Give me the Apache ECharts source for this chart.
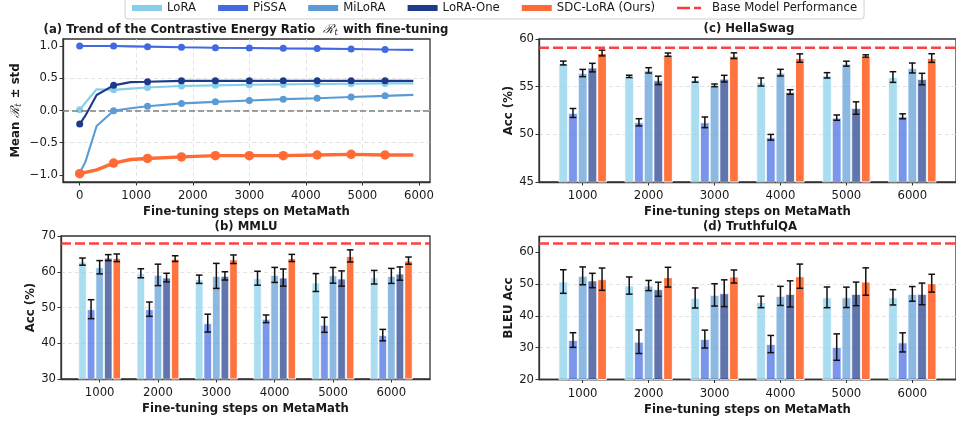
<!DOCTYPE html>
<html><head><meta charset="utf-8">
<script src="https://cdn.jsdelivr.net/npm/echarts@6.0.0/dist/echarts.min.js"></script>
<style>html,body{margin:0;padding:0;background:#fff}#c{width:956px;height:421px}</style>
</head><body><div id="c"></div><script>
// ---------------- data ----------------
const methods = ['LoRA', 'PiSSA', 'MiLoRA', 'LoRA-One', 'SDC-LoRA (Ours)'];
const baseName = 'Base Model Performance';
const steps = [1000, 2000, 3000, 4000, 5000, 6000];

// (a) contrastive energy ratio trend
const trendSteps  = [0, 100, 300, 600, 900, 1200, 1800, 2400, 3000, 3600, 4200, 4800, 5400, 5900];
const trendLoRA   = [0.01, 0.12, 0.33, 0.32, 0.34, 0.357, 0.38, 0.39, 0.40, 0.405, 0.41, 0.415, 0.42, 0.42];
const trendPiSSA  = [1.0, 1.0, 1.0, 1.0, 0.995, 0.99, 0.98, 0.974, 0.97, 0.964, 0.96, 0.953, 0.945, 0.94];
const trendMiLoRA = [-0.97, -0.80, -0.24, -0.005, 0.036, 0.067, 0.11, 0.134, 0.155, 0.176, 0.19, 0.21, 0.227, 0.243];
const trendLoRAOne= [-0.21, -0.08, 0.24, 0.39, 0.44, 0.445, 0.46, 0.46, 0.46, 0.46, 0.46, 0.46, 0.46, 0.46];
const trendSDC    = [-0.98, -0.96, -0.92, -0.816, -0.76, -0.744, -0.72, -0.70, -0.70, -0.70, -0.69, -0.68, -0.69, -0.69];
const trendTicksX = [0, 1000, 2000, 3000, 4000, 5000, 6000];
const trendTicksY = [-1.0, -0.5, 0.0, 0.5, 1.0];

// (b) MMLU
const mmluLoRA      = [62.84, 59.58, 57.9, 58.19, 56.98, 58.47];
const mmluLoRAErr   = [1.0, 1.26, 1.16, 1.95, 2.5, 1.9];
const mmluPiSSA     = [49.53, 49.53, 45.63, 46.84, 45.16, 42.28];
const mmluPiSSAErr  = [2.65, 2.0, 2.5, 1.07, 2.1, 1.6];
const mmluMiLoRA    = [61.26, 59.12, 58.84, 59.12, 59.0, 58.84];
const mmluMiLoRAErr = [1.86, 3.0, 3.5, 2.1, 2.2, 2.1];
const mmluLoRAOne   = [63.95, 58.37, 58.84, 58.37, 58.1, 59.49];
const mmluLoRAOneErr= [0.84, 1.2, 1.16, 2.4, 2.14, 1.86];
const mmluSDC       = [63.9, 63.67, 63.5, 63.86, 64.42, 63.12];
const mmluSDCErr    = [1.07, 0.8, 1.2, 1.0, 1.7, 1.0];
const mmluBase = 67.9;

// (c) HellaSwag
const hsLoRA      = [57.48, 56.08, 55.73, 55.49, 56.19, 56.01];
const hsLoRAErr   = [0.2, 0.12, 0.26, 0.42, 0.28, 0.56];
const hsPiSSA     = [52.24, 51.26, 51.26, 49.69, 51.75, 51.89];
const hsPiSSAErr  = [0.47, 0.38, 0.56, 0.3, 0.28, 0.26];
const hsMiLoRA    = [56.43, 56.71, 55.14, 56.47, 57.41, 56.96];
const hsMiLoRAErr = [0.38, 0.28, 0.14, 0.35, 0.26, 0.52];
const hsLoRAOne   = [57.0, 55.66, 55.84, 54.44, 52.76, 55.8];
const hsLoRAOneErr= [0.45, 0.44, 0.35, 0.24, 0.65, 0.6];
const hsSDC       = [58.53, 58.36, 58.25, 58.0, 58.22, 58.0];
const hsSDCErr    = [0.3, 0.17, 0.3, 0.44, 0.12, 0.45];
const hsBase = 59.09;

// (d) TruthfulQA
const tqaLoRA      = [50.76, 49.5, 45.6, 44.36, 45.8, 45.8];
const tqaLoRAErr   = [3.7, 2.7, 3.15, 1.8, 3.25, 2.4];
const tqaPiSSA     = [32.39, 31.86, 32.7, 31.13, 30.18, 31.65];
const tqaPiSSAErr  = [2.3, 3.7, 2.8, 2.7, 4.15, 3.0];
const tqaMiLoRA    = [52.55, 49.5, 46.56, 46.25, 45.8, 46.88];
const tqaMiLoRAErr = [2.8, 1.6, 3.5, 3.0, 3.2, 2.3];
const tqaLoRAOne   = [51.08, 48.35, 47.09, 46.88, 46.88, 46.88];
const tqaLoRAOneErr= [2.26, 2.2, 4.2, 4.1, 3.7, 3.4];
const tqaSDC       = [51.5, 52.13, 52.34, 52.44, 50.76, 50.24];
const tqaSDCErr    = [3.5, 3.1, 2.05, 3.8, 4.3, 2.8];
const tqaBase = 62.7;
const tqaTicksY = [20, 30, 40, 50, 60];

// ---------------- styling ----------------
const FONT = 'DejaVu Sans';
const FS = 11.7;
const TXT = '#1a1a1a';
const lineColors = ['#87CEEB', '#4169E1', '#5B9BD5', '#1E3A8A', '#FF6B35'];
const BAR_FRAC = 0.147;
const XMIN_BAR = 337.5, XMAX_BAR = 6662.5;

const trendSeries = [trendLoRA, trendPiSSA, trendMiLoRA, trendLoRAOne, trendSDC];
const panels = [
  { grid: 1, base: hsBase,
    mean: [hsLoRA, hsPiSSA, hsMiLoRA, hsLoRAOne, hsSDC],
    err:  [hsLoRAErr, hsPiSSAErr, hsMiLoRAErr, hsLoRAOneErr, hsSDCErr] },
  { grid: 2, base: mmluBase,
    mean: [mmluLoRA, mmluPiSSA, mmluMiLoRA, mmluLoRAOne, mmluSDC],
    err:  [mmluLoRAErr, mmluPiSSAErr, mmluMiLoRAErr, mmluLoRAOneErr, mmluSDCErr] },
  { grid: 3, base: tqaBase,
    mean: [tqaLoRA, tqaPiSSA, tqaMiLoRA, tqaLoRAOne, tqaSDC],
    err:  [tqaLoRAErr, tqaPiSSAErr, tqaMiLoRAErr, tqaLoRAOneErr, tqaSDCErr] }
];

const gridStyle = { show: true, borderColor: '#333', borderWidth: 1.3, backgroundColor: 'transparent' };
const grids = [
  Object.assign({ left: 63, top: 39, width: 367, height: 143 }, gridStyle),
  Object.assign({ left: 539, top: 39, width: 420, height: 143 }, gridStyle),
  Object.assign({ left: 61, top: 236, width: 369, height: 143 }, gridStyle),
  Object.assign({ left: 539, top: 236.5, width: 420, height: 143 }, gridStyle)
];

const mathRich = {
  r: { fontFamily: 'DejaVu Serif', fontStyle: 'italic', fontWeight: 'normal', fontSize: 12.5, color: TXT },
  s: { fontFamily: 'DejaVu Serif', fontStyle: 'italic', fontWeight: 'normal', fontSize: 8.5, color: TXT, padding: [6, 1, 0, 0] }
};

const axisLabelBase = { fontFamily: FONT, fontSize: FS, color: TXT };
const tickBase = { show: true, length: 3.5, lineStyle: { color: '#333', width: 1 } };
const splitDash = { show: true, showMinLine: false, showMaxLine: false,
  lineStyle: { color: '#dcdcdc', type: [4, 3], width: 0.8 } };
const spineLine = { show: true, onZero: false, lineStyle: { color: '#333', width: 1.3 } };
const xName = 'Fine-tuning steps on MetaMath';
const nameStyle = { fontFamily: FONT, fontSize: FS, fontWeight: 'bold', color: TXT };
const minusFmt = v => (v < 0 ? '\u2212' : '') + Math.abs(v).toFixed(1);
const plainFmt = v => String(v);

function barX(gi) {
  return {
    type: 'value', gridIndex: gi, min: XMIN_BAR, max: XMAX_BAR,
    axisLine: spineLine, splitLine: { show: false },
    axisTick: Object.assign({ customValues: steps }, tickBase),
    axisLabel: Object.assign({ customValues: steps, margin: 8, formatter: plainFmt }, axisLabelBase),
    name: xName, nameLocation: 'middle', nameGap: 24, nameTextStyle: nameStyle
  };
}

const xAxis = [
  { type: 'value', gridIndex: 0, min: -295, max: 6195,
    axisLine: spineLine, splitLine: splitDash,
    axisTick: Object.assign({ customValues: trendTicksX }, tickBase),
    axisLabel: Object.assign({ customValues: trendTicksX, margin: 8, formatter: plainFmt }, axisLabelBase),
    name: xName, nameLocation: 'middle', nameGap: 24, nameTextStyle: nameStyle },
  barX(1), barX(2), barX(3)
];

const yAxis = [
  { type: 'value', gridIndex: 0, min: -1.109, max: 1.109,
    axisLine: spineLine, splitLine: splitDash,
    axisTick: Object.assign({ customValues: trendTicksY }, tickBase),
    axisLabel: Object.assign({ customValues: trendTicksY, formatter: minusFmt, margin: 5 }, axisLabelBase),
    name: 'Mean {r|ℛ}{s|t} ± std', nameLocation: 'middle', nameGap: 40,
    nameTextStyle: Object.assign({ rich: mathRich }, nameStyle) },
  { type: 'value', gridIndex: 1, min: 45, max: 60, interval: 5,
    axisLine: spineLine, splitLine: splitDash, axisTick: tickBase,
    axisLabel: Object.assign({ margin: 5 }, axisLabelBase),
    name: 'Acc (%)', nameLocation: 'middle', nameGap: 24, nameTextStyle: nameStyle },
  { type: 'value', gridIndex: 2, min: 30, max: 70, interval: 10,
    axisLine: spineLine, splitLine: splitDash, axisTick: tickBase,
    axisLabel: Object.assign({ margin: 5 }, axisLabelBase),
    name: 'Acc (%)', nameLocation: 'middle', nameGap: 24, nameTextStyle: nameStyle },
  { type: 'value', gridIndex: 3, min: 20, max: 64.9,
    axisLine: spineLine, splitLine: splitDash,
    axisTick: Object.assign({ customValues: tqaTicksY }, tickBase),
    axisLabel: Object.assign({ customValues: tqaTicksY, margin: 5 }, axisLabelBase),
    name: 'BLEU Acc', nameLocation: 'middle', nameGap: 24, nameTextStyle: nameStyle }
];

const series = [];
// (a) lines
methods.forEach((m, k) => {
  const isOurs = k === 4;
  const s = {
    type: 'line', name: m, xAxisIndex: 0, yAxisIndex: 0,
    data: trendSteps.map((st, i) => ({ value: [st, trendSeries[k][i]], symbol: st % 600 === 0 ? 'circle' : 'none' })),
    symbolSize: isOurs ? 9.5 : 7, showSymbol: true,
    lineStyle: { color: lineColors[k], width: isOurs ? 3.4 : 2.1 },
    itemStyle: { color: lineColors[k] },
    z: 3 + k, clip: false
  };
  if (k === 0) {
    s.markLine = { silent: true, symbol: ['none', 'none'], label: { show: false },
      lineStyle: { color: '#808080', type: [6, 3], width: 1.5 }, data: [{ yAxis: 0 }] };
  }
  series.push(s);
});

// bars, error bars, base lines
function errRender(params, api) {
  const x = api.value(0), m = api.value(1), e = api.value(2), k = api.value(3);
  const bw = api.size([1000, 0])[0] * BAR_FRAC;
  const c = api.coord([x, m]);
  const cx = c[0] + (k - 2) * bw;
  const yt = api.coord([x, m + e])[1];
  const yb = api.coord([x, m - e])[1];
  const cap = 3.3;
  const st = { stroke: '#111', lineWidth: 1.5 };
  return { type: 'group', children: [
    { type: 'line', shape: { x1: cx, y1: yt, x2: cx, y2: yb }, style: st },
    { type: 'line', shape: { x1: cx - cap, y1: yt, x2: cx + cap, y2: yt }, style: st },
    { type: 'line', shape: { x1: cx - cap, y1: yb, x2: cx + cap, y2: yb }, style: st }
  ] };
}

panels.forEach(p => {
  methods.forEach((m, k) => {
    series.push({
      type: 'bar', name: m, xAxisIndex: p.grid, yAxisIndex: p.grid,
      data: steps.map((s, i) => [s, p.mean[k][i]]),
      barWidth: (BAR_FRAC * 100) + '%', barGap: '0%',
      itemStyle: { color: lineColors[k], opacity: k === 4 ? 0.95 : 0.7, borderColor: '#fff', borderWidth: 1 },
      z: 2
    });
  });
  const ed = [];
  methods.forEach((m, k) => steps.forEach((s, i) => ed.push([s, p.mean[k][i], p.err[k][i], k])));
  series.push({
    type: 'custom', xAxisIndex: p.grid, yAxisIndex: p.grid, renderItem: errRender,
    data: ed, encode: { x: 0, y: 1 }, z: 4, silent: true
  });
  series.push({
    type: 'line', name: baseName, xAxisIndex: p.grid, yAxisIndex: p.grid,
    data: [[XMIN_BAR, p.base], [XMAX_BAR, p.base]], symbol: 'none',
    lineStyle: { color: '#FF2222', width: 2.4, type: [10, 4], opacity: 0.85 },
    itemStyle: { color: '#FF2222' }, z: 5
  });
});

const titleStyle = { fontFamily: FONT, fontSize: FS, fontWeight: 'bold', color: TXT };
const titles = [
  { text: '(a) Trend of the Contrastive Energy Ratio  {r|ℛ}{s|t} with fine-tuning', left: 246, top: 22,
    textStyle: Object.assign({ rich: mathRich }, titleStyle) },
  { text: '(c) HellaSwag', left: 749, top: 23, textStyle: titleStyle },
  { text: '(b) MMLU', left: 246, top: 221, textStyle: titleStyle },
  { text: '(d) TruthfulQA', left: 750, top: 221, textStyle: titleStyle }
].map(t => Object.assign({ textAlign: 'center', padding: 0, itemGap: 0 }, t));

const legendData = methods.map((m, k) => ({ name: m, icon: 'rect', itemStyle: { color: lineColors[k], opacity: 1 } }));
legendData.push({ name: baseName, icon: 'path://M0,0L0,0M30,6L30,6M0,1.7h13v2.6h-13zM17,1.7h7v2.6h-7z',
  itemStyle: { color: '#FF2222', opacity: 0.9, borderWidth: 0 } });

const option = {
  animation: false,
  backgroundColor: '#fff',
  title: titles,
  legend: {
    top: -4, left: 125, padding: [6, 7, 5, 7], itemWidth: 30, itemHeight: 6, itemGap: 22,
    borderColor: '#cfcfcf', borderWidth: 1, borderRadius: 3, backgroundColor: '#fff',
    textStyle: { fontFamily: FONT, fontSize: FS, color: TXT },
    data: legendData, selectedMode: false
  },
  grid: grids, xAxis: xAxis, yAxis: yAxis, series: series
};

const chart = echarts.init(document.getElementById('c'), null, { renderer: 'canvas' });
chart.setOption(option);
</script></body></html>
